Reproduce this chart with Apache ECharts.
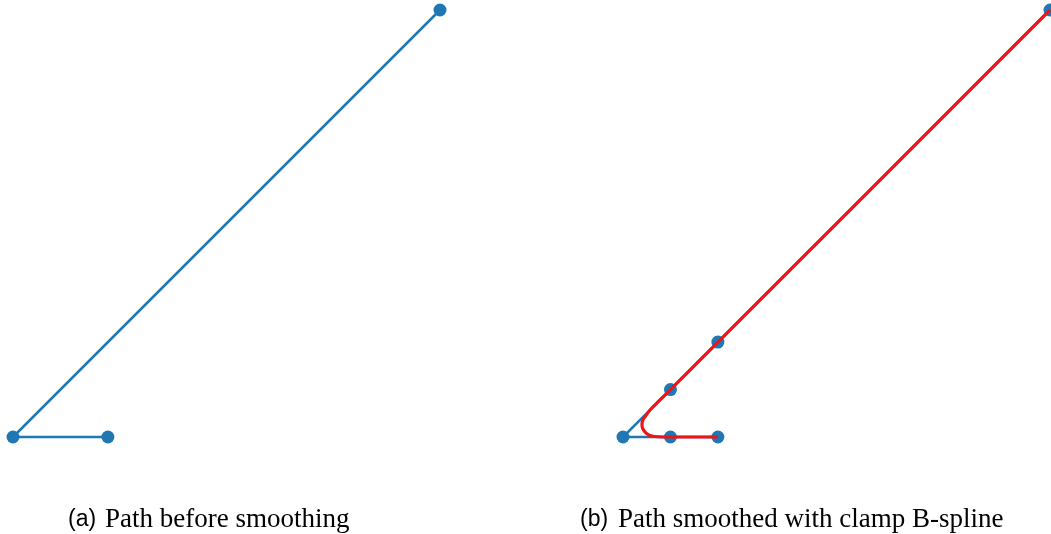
<!DOCTYPE html>
<html>
<head>
<meta charset="utf-8">
<script src="https://cdn.jsdelivr.net/npm/echarts@6/dist/echarts.min.js"></script>
<style>html,body{margin:0;padding:0;background:#fff}#c{width:1051px;height:534px}</style>
</head>
<body>
<div id="c"></div>
<script>
// Panel (a): path before smoothing
const pathBefore = [[2, 0], [0, 0], [9, 9]];
// Panel (b): control points after insertion
const controlPoints = [[2, 0], [1, 0], [0, 0], [1, 1], [2, 2], [9, 9]];
// Panel (b): smoothed curve
const smoothedPath = [[2, 0], [1.41, 0], [0.89, 0], [0.61, 0.02], [0.49, 0.08], [0.42, 0.17], [0.40, 0.26], [0.42, 0.36], [0.49, 0.46], [0.57, 0.57], [0.78, 0.78], [1, 1], [2, 2], [9, 9]];
const captionTags = ['(a)', '(b)'];
const captionTexts = ['Path before smoothing', 'Path smoothed with clamp B-spline'];

const chart = echarts.init(document.getElementById('c'));
const axisOff = {min: 0, max: 9, show: false};
const blue = '#1f77b4', red = '#ee1519';
chart.setOption({
  animation: false,
  grid: [
    {left: 13, top: 10, width: 427, height: 427},
    {left: 623, top: 10, width: 427, height: 427}
  ],
  xAxis: [Object.assign({type: 'value', gridIndex: 0}, axisOff), Object.assign({type: 'value', gridIndex: 1}, axisOff)],
  yAxis: [Object.assign({type: 'value', gridIndex: 0}, axisOff), Object.assign({type: 'value', gridIndex: 1}, axisOff)],
  series: [
    {type: 'line', xAxisIndex: 0, yAxisIndex: 0, data: pathBefore, symbol: 'circle', symbolSize: 13,
     lineStyle: {color: blue, width: 2.5}, itemStyle: {color: blue}, clip: false},
    {type: 'line', xAxisIndex: 1, yAxisIndex: 1, data: controlPoints, symbol: 'circle', symbolSize: 13,
     lineStyle: {color: blue, width: 2.5}, itemStyle: {color: blue}, clip: false, z: 2},
    {type: 'line', xAxisIndex: 1, yAxisIndex: 1, data: smoothedPath, showSymbol: false, smooth: 0.3,
     lineStyle: {color: red, width: 3.2}, clip: false, z: 5}
  ],
  graphic: [
    {type: 'text', left: 68, top: 508, style: {text: captionTags[0], font: '23px "Liberation Sans", Arial, sans-serif', fill: '#000'}},
    {type: 'text', left: 105, top: 506, style: {text: captionTexts[0], font: '27px "Liberation Serif", "Times New Roman", serif', fill: '#000'}},
    {type: 'text', left: 580, top: 508, style: {text: captionTags[1], font: '23px "Liberation Sans", Arial, sans-serif', fill: '#000'}},
    {type: 'text', left: 618, top: 506, style: {text: captionTexts[1], font: '27px "Liberation Serif", "Times New Roman", serif', fill: '#000'}}
  ]
});
</script>
</body>
</html>
